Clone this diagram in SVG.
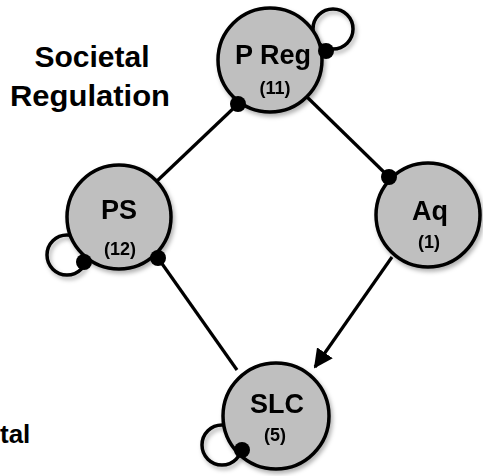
<svg xmlns="http://www.w3.org/2000/svg" width="483" height="476" viewBox="0 0 483 476">
  <defs>
    <filter id="shadow" x="-20%" y="-20%" width="150%" height="150%">
      <feDropShadow dx="2" dy="3" stdDeviation="2" flood-color="#000" flood-opacity="0.3"/>
    </filter>
    <marker id="arrow" viewBox="0 0 10 10" refX="9" refY="5" markerWidth="6" markerHeight="6" markerUnits="strokeWidth" orient="auto">
      <path d="M0,0 L10,5 L0,10 z" fill="#000"/>
    </marker>
  </defs>
  <style>
    .node { fill: #bfbfbf; stroke: #000; stroke-width: 3.5; }
    .loop { fill: none; stroke: #000; stroke-width: 3.5; }
    .edge { fill: none; stroke: #000; stroke-width: 3.2; }
    .dot { fill: #000; }
    .name { font-family: "Liberation Sans", Arial, sans-serif; font-weight: bold; font-size: 27px; text-anchor: middle; fill: #000; }
    .count { font-family: "Liberation Sans", Arial, sans-serif; font-weight: bold; font-size: 18px; text-anchor: middle; fill: #000; }
    .title { font-family: "Liberation Sans", Arial, sans-serif; font-weight: bold; font-size: 30px; text-anchor: middle; fill: #000; }
  </style>

  <!-- free-standing labels -->
  <text class="title" x="92" y="67">Societal</text>
  <text class="title" x="90" y="106" textLength="160" lengthAdjust="spacingAndGlyphs">Regulation</text>
  <text class="title" x="0" y="443" style="text-anchor:start;font-size:26px">tal</text>

  <!-- self loops sit behind the nodes -->
  <g id="self-loops" filter="url(#shadow)">
    <circle class="loop" cx="333" cy="29" r="20"/>
    <circle class="loop" cx="67" cy="255" r="20"/>
    <circle class="loop" cx="222" cy="445" r="20"/>
  </g>

  <g id="node-preg" filter="url(#shadow)">
    <circle class="node" cx="270" cy="60" r="52"/>
    <text class="name" x="273" y="64">P Reg</text>
    <text class="count" x="275" y="94">(11)</text>
  </g>
  <g id="node-ps" filter="url(#shadow)">
    <circle class="node" cx="119" cy="217" r="52"/>
    <text class="name" x="119" y="219">PS</text>
    <text class="count" x="120" y="255">(12)</text>
  </g>
  <g id="node-aq" filter="url(#shadow)">
    <circle class="node" cx="428" cy="215" r="52"/>
    <text class="name" x="430" y="220">Aq</text>
    <text class="count" x="429" y="248">(1)</text>
  </g>
  <g id="node-slc" filter="url(#shadow)">
    <circle class="node" cx="276" cy="416" r="53"/>
    <text class="name" x="277" y="413">SLC</text>
    <text class="count" x="275" y="441">(5)</text>
  </g>

  <!-- connectors -->
  <g id="connectors">
    <line class="edge" x1="157" y1="181" x2="238" y2="104"/>
    <line class="edge" x1="307" y1="97" x2="389" y2="177"/>
    <line class="edge" x1="392" y1="257" x2="315" y2="367" marker-end="url(#arrow)"/>
    <line class="edge" x1="237" y1="370" x2="158" y2="258"/>
    <circle class="dot" cx="238" cy="104" r="8"/>
    <circle class="dot" cx="389" cy="177" r="8"/>
    <circle class="dot" cx="158" cy="258" r="8"/>
    <circle class="dot" cx="326" cy="51" r="8"/>
    <circle class="dot" cx="84" cy="262" r="8"/>
    <circle class="dot" cx="242" cy="450" r="8"/>
  </g>
</svg>
